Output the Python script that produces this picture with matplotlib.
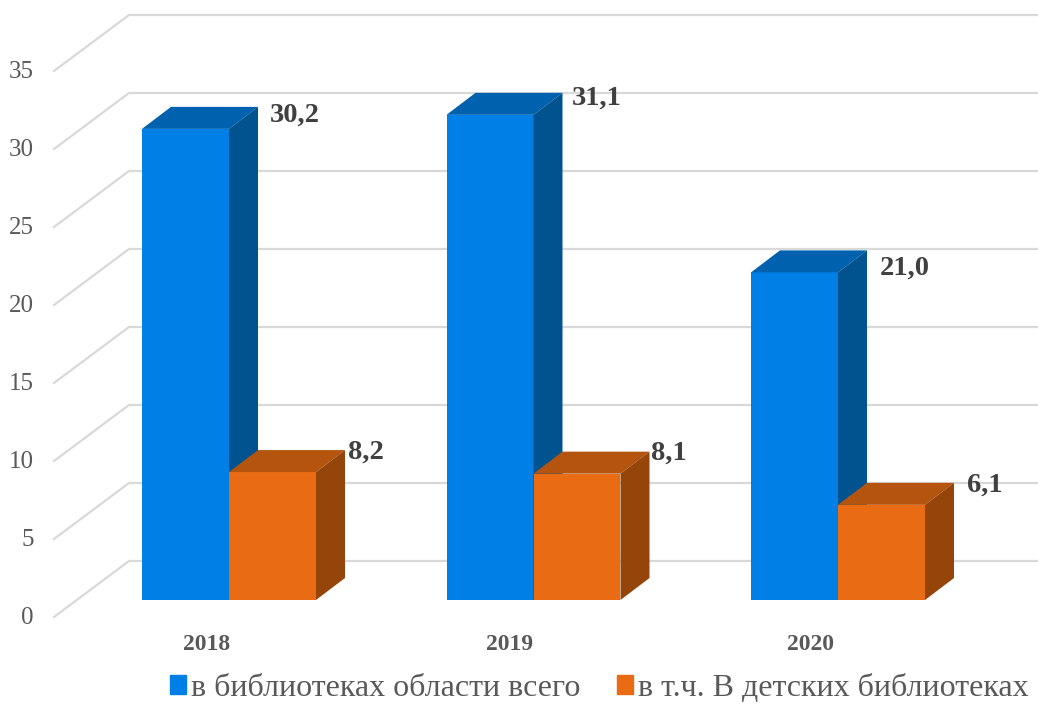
import matplotlib
matplotlib.use('Agg')
import matplotlib.pyplot as plt
from matplotlib.patches import Patch

years = ['2018', '2019', '2020']
total = [30.2, 31.1, 21.0]
children = [8.2, 8.1, 6.1]
total_labels = ['30,2', '31,1', '21,0']
children_labels = ['8,2', '8,1', '6,1']
y_ticks = [0, 5, 10, 15, 20, 25, 30, 35]
series_names = ['в библиотеках области всего', 'в т.ч. В детских библиотеках']

PX_X = 304.5   # pixels per category
PX_Y = 15.6    # pixels per value unit
BAR_W = 87 / PX_X
DEPTH_X = 29 / PX_X
DEPTH_Y = 22 / PX_Y

plt.rcParams['font.family'] = ['Liberation Serif', 'DejaVu Serif']

fig = plt.figure(figsize=(10.38, 7.04), dpi=100)
ax = fig.add_axes([0, 0, 1, 1])
ax.set_xlim(-229 / PX_X, (1038 - 229) / PX_X)
ax.set_ylim(-104 / PX_Y, 600 / PX_Y)
ax.axis('off')

# back wall and left side wall
wall_x0 = -100 / PX_X
wall_x1 = -175 / PX_X
for v in y_ticks:
    back = v + 39 / PX_Y
    front = v - 17 / PX_Y
    ax.plot([wall_x1, wall_x0, ax.get_xlim()[1]], [front, back, back],
            color='#d9d9d9', lw=1.6, solid_joinstyle='miter', zorder=1)
    ax.text(wall_x1 - 20 / PX_X, v - 18 / PX_Y, str(v), ha='right', va='center',
            fontsize=18, color='#595959')


def bar3d(x, h, front, top, side):
    ax.fill([x, x + BAR_W, x + BAR_W, x], [0, 0, h, h], color=front, lw=0, zorder=3)
    ax.fill([x, x + DEPTH_X, x + BAR_W + DEPTH_X, x + BAR_W],
            [h, h + DEPTH_Y, h + DEPTH_Y, h], color=top, lw=0, zorder=3)
    ax.fill([x + BAR_W, x + BAR_W + DEPTH_X, x + BAR_W + DEPTH_X, x + BAR_W],
            [0, DEPTH_Y, h + DEPTH_Y, h], color=side, lw=0, zorder=3)


for i in range(3):
    bar3d(i - BAR_W, total[i], '#0080e6', '#0062ae', '#00538f')
for i in range(3):
    bar3d(i, children[i], '#e96c14', '#b4540f', '#96450a')

# value labels sit by hand next to the bar tops
total_off = [(41, 14), (38, 17), (42, 4)]
children_off = [(32, 20), (31, 20), (42, 20)]
year_off = [-22, -24, -27]
for i in range(3):
    ax.text(i + total_off[i][0] / PX_X, total[i] + total_off[i][1] / PX_Y, total_labels[i],
            ha='left', va='center', fontsize=20.5, fontweight='bold', color='#404040', zorder=5)
    ax.text(i + BAR_W + children_off[i][0] / PX_X, children[i] + children_off[i][1] / PX_Y,
            children_labels[i], ha='left', va='center', fontsize=20.5, fontweight='bold',
            color='#404040', zorder=5)
    ax.text(i + year_off[i] / PX_X, -44 / PX_Y, years[i], ha='center', va='center', fontsize=17,
            fontweight='bold', color='#595959')

handles = [Patch(color='#0080e6'), Patch(color='#e96c14')]
fig.legend(handles, series_names, ncol=2, loc='lower right', bbox_to_anchor=(1.0, -0.012),
           frameon=False, fontsize=23, labelcolor='#595959', handlelength=0.5,
           handleheight=0.5, handletextpad=0.16, columnspacing=1.13, borderaxespad=0.0,
           borderpad=0.3)

fig.savefig('out.png', dpi=100)
